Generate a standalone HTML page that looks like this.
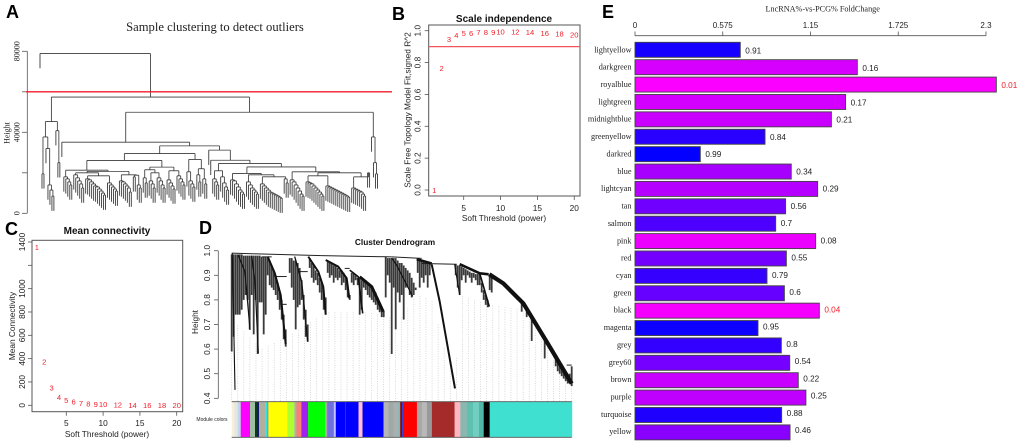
<!DOCTYPE html>
<html>
<head>
<meta charset="utf-8">
<title>WGCNA figure</title>
<style>
html,body{margin:0;padding:0;background:#fff;width:1020px;height:444px;overflow:hidden}
svg{display:block;filter:blur(0.3px)}
</style>
</head>
<body>
<svg id="fig" width="1020" height="444" viewBox="0 0 1020 444" xmlns="http://www.w3.org/2000/svg">
  <g id="panelA"></g>
  <g id="panelB"></g>
  <g id="panelC"></g>
  <g id="panelD"></g>
  <g id="panelE"></g>
</svg>
<script>
// ---------- Panel B / C data ----------
const softPowers = [1,2,3,4,5,6,7,8,9,10,12,14,16,18,20];
const scaleFitValues = [0.0,0.764,0.948,0.973,0.985,0.985,0.99,0.99,0.99,0.995,0.993,0.99,0.985,0.981,0.975];
const meanConnectivityValues = [1354,374,149,71,43,29,20,14,11,9,5,3,2,1.5,1];
const powerTicks = [5,10,15,20];
const scaleFitTicks = [0,0.2,0.4,0.6,0.8,1];
const connectivityTicks = [0,200,400,600,800,1000,1200,1400];
const connectivityTickLabels = ['0','200','400','600','800','1000','','1400'];
const scaleFitCutoff = [0.9];

// ---------- Panel E data ----------
const moduleNames = ['lightyellow','darkgreen','royalblue','lightgreen','midnightblue','greenyellow','darkred','blue','lightcyan','tan','salmon','pink','red','cyan','green','black','magenta','grey','grey60','brown','purple','turquoise','yellow'];
const foldChanges = [0.69,1.457,2.368,1.38,1.287,0.852,0.428,1.024,1.197,0.987,0.922,1.184,0.992,0.865,0.979,1.208,0.806,0.959,1.014,1.07,1.12,0.961,1.016];
const pValues = [0.91,0.16,0.01,0.17,0.21,0.84,0.99,0.34,0.29,0.56,0.7,0.08,0.55,0.79,0.6,0.04,0.95,0.8,0.54,0.22,0.25,0.88,0.46];
const foldTicks = [0,0.575,1.15,1.725,2.3];

// ---------- Panel A data: comb heights, and an upper tree of [height,left,right]
// where 0 = single sample and n>0 = comb number n ----------
const sampleCombs = [
 [18000,17000,15500,14000],
 [19000,17500,16000,14500,12500],
 [17000,16500,15500,14500,13500,13000,12000,11000,10000,9000],
 [15000,14000,13000,12000,11000],
 [16000,15500,14500,13500,12500,10500],
 [18000],
 [14000,12500],
 [17500,15000],
 [16000,14500,12500],
 [17500,16000,14000,12500],
 [16500,15000,13500,12000],
 [18500,17000,15500,14000],
 [20500,16000,14500,13000],
 [19000,15500],
 [17000,14500],
 [17000,15500,14000],
 [18000,15000,13000,11500],
 [16500,16000,14500,13000,11500,10500,9500],
 [15500,14000,12500,11500,10500,9500],
 [14500,13500,12500,11500,10500,10000,9500,9000,8500,8000,7500],
 [17000,15000],
 [16500,15500,14000,12500,11000,9500,8500],
 [15500,15000,14500,13500,12500,11500,10500,9500,8500],
 [13500,13000,12500,12000,11500,11000,10500,10000,9500,9000,8500,8000],
 [12500,12000,11500,11000,10500,9500,8500],
 [20000]
];
const sampleTree =
 [78900, 0,
  [57400,
   [45300,
    [37700, [19500,0,0], [32000,0,[14000,0,[11500,0,[8500,0,0]]]]],
    [40800,0,[25000,0,0]]],
   [49900,
    [35100, 0,
     [33300,
      [29500,
       [26100,
        [21300, 1, [20700, [20000, 2, [18500, 3, 4]], [19000, 5, [18800, 6, 7]]]],
        [22800, [21500, 8, [20000, 9, 10]], [21000, 11, 12]]],
       [26600, 13, [22000, 14, 15]]],
      [31200, 0,
       [26200, 0,
        [24600,
         [21000, 16, 17],
         [22900,
          [19700, 18, [19000, 19, [18000, 20, 21]]],
          [20500, 22, [20000, [18500, 23, 24], [18000, 25, 26]]]]]]]]],
    [37700, 0, [25000, 0, [19500, 0, 0]]]]]];
const sampleHang = [7300];
const sampleHeightTicks = [0,20000,40000,60000,80000];
const sampleHeightLabels = ['0','','40000','','80000'];
const sampleCutoff = [60000];

// ---------- Panel D data (gene rank, 0..340) ----------
const geneCurves = [
 {w:1.1,pts:[[0.6,0.99],[3.3,0.434]]},
 {w:1.2,pts:[[6.6,0.982],[13.3,0.915],[18.3,0.678]]},
 {w:1.2,pts:[[20,0.98],[23.3,0.874],[26.6,0.583]]},
 {w:2,pts:[[36,0.976],[43,0.91],[49,0.82],[54,0.62]]},
 {w:1.3,pts:[[63,0.976],[70,0.874],[76,0.63]]},
 {w:1.9,pts:[[76.6,0.976],[86.6,0.915],[91.6,0.854],[94,0.74]]},
 {w:2,pts:[[94,0.962],[106.6,0.935],[115,0.888],[117.6,0.806]]},
 {w:1.6,pts:[[118,0.921],[126.6,0.894],[131,0.745]]},
 {w:3,pts:[[128,0.894],[140,0.854],[151.6,0.752]]},
 {w:1.2,pts:[[160,0.97],[165,0.942],[181,0.814]]},
 {w:2.6,pts:[[185,0.965],[200,0.948]]},
 {w:2,pts:[[200,0.944],[208,0.793],[223.3,0.44]]},
 {w:1.2,pts:[[223,0.944],[228,0.82]]},
 {w:2.6,pts:[[228,0.945],[248,0.908],[257,0.904]]},
 {w:1.6,pts:[[248,0.908],[257.6,0.773]]},
 {w:4.2,pts:[[257.6,0.904],[271.6,0.867],[291.6,0.786],[315,0.63],[340,0.46]]}
];
const geneLinks = [
 [0,90,0.99,0.98],[90,160,0.98,0.975],[160,190,0.975,0.969],[190,225,0.948,0.945],
 [43,55,0.895,0.895],[49,55,0.782,0.782],[67,76,0.915,0.915],[113,118,0.928,0.928],[30,40,0.975,0.975],[335,340,0.535,0.535]
];
const geneSpikes = [
 [0,0.985,0.59],[2,0.985,0.65],[4,0.985,0.74],[6,0.985,0.74],[8,0.985,0.74],[10,0.985,0.76],[12,0.98,0.8],[14,0.98,0.82],[16,0.98,0.8],[18,0.98,0.68],
 [20,0.98,0.82],[22,0.98,0.66],[24,0.98,0.8],[26,0.98,0.58],[28,0.98,0.79],[30,0.975,0.79],[32,0.975,0.66],[34,0.975,0.74],
 [36,0.97,0.9],[38,0.96,0.86],[40,0.94,0.85],[42,0.92,0.84],[44,0.9,0.82],[46,0.87,0.8],[48,0.83,0.76],[50,0.8,0.72],[52,0.74,0.64],[54,0.68,0.61],
 [58,0.97,0.91],[60,0.97,0.85],[62,0.96,0.8],[64,0.96,0.68],[66,0.95,0.77],[68,0.93,0.78],[70,0.88,0.8],[72,0.82,0.72],[74,0.76,0.65],[76,0.7,0.63],
 [78,0.97,0.93],[80,0.95,0.89],[82,0.94,0.87],[84,0.92,0.88],[86,0.91,0.86],[88,0.89,0.83],[90,0.87,0.8],[92,0.84,0.76],[94,0.81,0.74],
 [96,0.96,0.91],[98,0.95,0.89],[100,0.95,0.9],[102,0.94,0.87],[104,0.94,0.89],[106,0.93,0.88],[108,0.92,0.89],[110,0.92,0.86],[112,0.91,0.87],[114,0.89,0.84],[116,0.86,0.81],[118,0.82,0.8],
 [120,0.91,0.87],[122,0.91,0.86],[124,0.9,0.88],[126,0.89,0.86],[128,0.89,0.74],[130,0.88,0.76],[132,0.885,0.85],[134,0.88,0.84],[136,0.87,0.82],[138,0.86,0.81],[140,0.85,0.8],[142,0.84,0.79],[144,0.83,0.78],[146,0.81,0.76],[148,0.79,0.75],[150,0.77,0.73],[152,0.755,0.73],
 [154,0.975,0.81],[156,0.97,0.9],[158,0.97,0.87],[160,0.97,0.58],[162,0.97,0.85],[164,0.97,0.68],[166,0.96,0.83],[168,0.95,0.79],[170,0.95,0.82],[172,0.94,0.72],[174,0.93,0.85],[176,0.92,0.85],[178,0.91,0.82],[180,0.89,0.81],[182,0.87,0.82],[184,0.85,0.84],
 [186,0.97,0.91],[188,0.965,0.85],[190,0.96,0.89],[192,0.955,0.87],[194,0.95,0.9],[196,0.95,0.85],[198,0.95,0.9],
 [224,0.945,0.9],[226,0.94,0.85],[228,0.94,0.82],[230,0.935,0.88],[232,0.93,0.9],[234,0.925,0.87],[236,0.92,0.9],[238,0.915,0.89],[240,0.91,0.87],[242,0.91,0.89],[244,0.905,0.88],[246,0.905,0.86],[248,0.905,0.86],[250,0.87,0.83],[252,0.84,0.8],[254,0.82,0.78],[256,0.8,0.77],[258,0.9,0.84],[260,0.895,0.83],
 [290,0.79,0.752],[295,0.77,0.73],[300,0.74,0.633],[313,0.64,0.562],[324,0.56,0.53],
 [326,0.55,0.51],[328,0.53,0.5],[330,0.52,0.49],[332,0.51,0.48],[334,0.5,0.47],[336,0.49,0.46],[338,0.5,0.46],[340,0.53,0.45]
];
const geneCanopy = [[0,0.72],[30,0.6],[60,0.66],[95,0.75],[130,0.75],[155,0.74],[165,0.7],[185,0.82],[200,0.8],[223,0.44],[228,0.82],[257,0.78],[291,0.76],[315,0.62],[340,0.46]];
const guideCount = [57];
const moduleBarColors = ['#f5f0d8','#e6e6e6','#bfd8e8','#ff00ff','#9fc0a0','#0a3a20','#191970','#b0b0a0','#00ffff','#999999','#ffff00','#adff2f','#b0b0b0','#fa8072','#a020f0','#00ff00','#aaaaaa','#7070e0','#c0c0ff','#0000ff','#006060','#0000ff','#ffc0cb','#0000ff','#b5b5b5','#a0a8a8','#a9b0b0','#70c0c0','#8b0000','#2244ee','#ff0000','#a8a8a8','#b8b8b8','#999999','#a52a2a','#ffb6c1','#8ab8b0','#60c0b0','#70cfc0','#50b8a8','#000000','#40e0d0'];
const moduleBarSizes = [2.7,3.3,3,9.3,5,2,2,6,1.7,1.7,19,7,2,5,6.7,17,2,6.7,2,9.3,0.7,12.7,4,21,5,5,5,1.7,1.7,1,14,5,5,5,22.7,5.7,6.7,6,6,4.7,6,82.3];
const geneHeightTicks = [0.4,0.5,0.6,0.7,0.8,0.9,1.0];

// ---------- Helpers ----------
const SVGNS = 'http://www.w3.org/2000/svg';
const SANS = '"Liberation Sans", Arial, sans-serif';
const SERIF = '"Liberation Serif", "Times New Roman", serif';
function mk(tag, attrs, parent){
  const n = document.createElementNS(SVGNS, tag);
  for (const k in attrs) n.setAttribute(k, attrs[k]);
  parent.appendChild(n);
  return n;
}
function seg(parent, x1, y1, x2, y2, color, w, label){
  const n = mk('line', {x1:x1, y1:y1, x2:x2, y2:y2, stroke:color, 'stroke-width':w}, parent);
  
  
  return n;
}
function txt(parent, x, y, str, size, family, opts, label){
  const o = opts || {};
  const a = {x:x, y:y, 'font-size':size, 'font-family':family, 'text-anchor':o.anchor || 'middle', fill:o.fill || '#222'};
  if (o.weight) a['font-weight'] = o.weight;
  if (o.rotate) a.transform = 'rotate(-90 ' + x + ' ' + y + ')';
  const n = mk('text', a, parent);
  n.textContent = str;
  
  
  return n;
}
const AXIS = '#555';

// ---------- Panel letters ----------
const letters = [['A',6,18],['B',392,20],['C',5,235],['D',199,234],['E',602,18]];
const svgRoot = document.getElementById('fig');
letters.forEach(function(l){
  txt(svgRoot, l[1], l[2], l[0], 18, SANS, {anchor:'start', weight:'bold', fill:'#000'}, 'panel-letter-' + l[0].toLowerCase());
});

// ---------- Panel A ----------
(function(){
  const g = document.getElementById('panelA');
  const yA = function(v){ return 213.3 - v * 162 / 80000; };
  const leafStep = 337.5 / 170;
  let cursor = 0;
  const xLeaf = function(){ const x = 40 + cursor * leafStep; cursor += 1; return x; };
  function expand(node){
    if (node === 0) return {leaf:true};
    if (typeof node === 'number') {
      const hs = sampleCombs[node - 1];
      let cur = [hs[hs.length - 1], 0, 0];
      for (let i = hs.length - 2; i >= 0; i--) cur = [hs[i], 0, cur];
      return expand(cur);
    }
    return {h:node[0], l:expand(node[1]), r:expand(node[2])};
  }
  function draw(n, parentH){
    if (n.leaf) {
      const x = xLeaf();
      seg(g, x, yA(parentH), x, yA(parentH - sampleHang[0]), '#444', 0.95, 'sample-leaf');
      return x;
    }
    const a = draw(n.l, n.h);
    const b = draw(n.r, n.h);
    seg(g, a, yA(n.h), b, yA(n.h), '#3a3a3a', 0.85, 'dendrogram-merge');
    const mid = (a + b) / 2;
    if (parentH !== null) seg(g, mid, yA(parentH), mid, yA(n.h), '#3a3a3a', 0.85, 'dendrogram-branch');
    return mid;
  }
  draw(expand(sampleTree), null);
  seg(g, 27.3, yA(0), 27.3, yA(80000), AXIS, 0.8, 'height-axis-line');
  sampleHeightTicks.forEach(function(t, i){
    seg(g, 22, yA(t), 27.3, yA(t), AXIS, 0.8, 'height-axis-tick');
    if (sampleHeightLabels[i]) txt(g, 19.5, yA(t), sampleHeightLabels[i], 8, SERIF, {rotate:true}, 'height-tick-label');
  });
  txt(g, 9.5, 133, 'Height', 8, SERIF, {rotate:true}, 'height-axis-title');
  seg(g, 26, yA(sampleCutoff[0]), 392, yA(sampleCutoff[0]), '#f01c2c', 1.3, 'outlier-cutoff-line');
  txt(g, 215, 31, 'Sample clustering to detect outliers', 12.6, SERIF, {}, 'sample-clustering-title');
})();

// ---------- Panels B & C ----------
function scatterPanel(g, box, xScale, yScale, yTicks, yLabels, values, title, yTitle, yTitleY, titleX, xTitleY, titleY, xTickY, yTickX, yTitleX){
  const frame = mk('rect', {x:box.l, y:box.t, width:box.r - box.l, height:box.b - box.t, fill:'none', stroke:AXIS, 'stroke-width':1}, g);
  
  
  powerTicks.forEach(function(t){
    seg(g, xScale(t), box.b, xScale(t), box.b + 4, AXIS, 0.8, 'power-axis-tick');
    txt(g, xScale(t), xTickY, String(t), 8.3, SANS, {}, 'power-tick-label');
  });
  yTicks.forEach(function(t, i){
    seg(g, box.l - 4, yScale(t), box.l, yScale(t), AXIS, 0.8, 'y-axis-tick');
    if (yLabels[i]) txt(g, yTickX, yScale(t), yLabels[i], 8.3, SANS, {rotate:true}, 'y-tick-label');
  });
  values.forEach(function(v, i){
    txt(g, xScale(softPowers[i]), yScale(v) + 2.8, String(softPowers[i]), 7.6, SANS, {fill:'#f0202c'}, 'power-point-label');
  });
  txt(g, titleX, titleY, title, 10, SANS, {weight:'bold', fill:'#111'}, 'panel-title');
  txt(g, titleX, xTitleY, 'Soft Threshold (power)', 8.3, SANS, {}, 'x-axis-title');
  txt(g, yTitleX, yTitleY, yTitle, 8.3, SANS, {rotate:true}, 'y-axis-title');
}
(function(){
  const g = document.getElementById('panelB');
  const x = function(v){ return 463.7 + (v - 5) * 7.37; };
  const y = function(v){ return 190 - v * 159.3; };
  scatterPanel(g, {l:428.7, r:580, t:25, b:196}, x, y, scaleFitTicks, scaleFitTicks.map(function(t){return t.toFixed(1);}), scaleFitValues,
    'Scale independence', 'Scale Free Topology Model Fit,signed R^2', 110, 504, 221, 22, 211, 420.5, 410.5);
  seg(g, 428.7, y(scaleFitCutoff[0]), 580, y(scaleFitCutoff[0]), '#f2555f', 1.3, 'scale-fit-cutoff-line');
})();
(function(){
  const g = document.getElementById('panelC');
  const x = function(v){ return 66.3 + (v - 5) * 7.36; };
  const y = function(v){ return 405.3 - v * 163.3 / 1400; };
  scatterPanel(g, {l:32, r:182.7, t:240.3, b:411.7}, x, y, connectivityTicks, connectivityTickLabels, meanConnectivityValues,
    'Mean connectivity', 'Mean Connectivity', 326, 107, 437, 234, 426, 25, 15);
})();

// ---------- Panel D ----------
(function(){
  const g = document.getElementById('panelD');
  const x = function(r){ return 231.7 + r; };
  const y = function(h){ return 250.7 + (1 - h) * 246; };
  const canopyAt = function(r){
    for (let i = 1; i < geneCanopy.length; i++) {
      if (r <= geneCanopy[i][0]) {
        const a = geneCanopy[i - 1], b = geneCanopy[i];
        return a[1] + (b[1] - a[1]) * (r - a[0]) / (b[0] - a[0]);
      }
    }
    return geneCanopy[geneCanopy.length - 1][1];
  };
  for (let i = 0; i < guideCount[0]; i++) {
    const r = i * 340 / (guideCount[0] - 1);
    const guide = seg(g, x(r), y(canopyAt(r)), x(r), 401.7, '#c9c9c9', 0.7, 'module-guide-line');
    guide.setAttribute('stroke-dasharray', '1 1.4');
  }
  geneSpikes.forEach(function(s){
    seg(g, x(s[0]), y(s[1]), x(s[0]), y(s[2]), '#3a3a3a', 1.8, 'gene-branch-spike');
  });
  geneLinks.forEach(function(l){
    seg(g, x(l[0]), y(l[2]), x(l[1]), y(l[3]), '#222', 1, 'gene-merge-link');
  });
  geneCurves.forEach(function(c){
    const curve = mk('polyline', {points:c.pts.map(function(p){return x(p[0]) + ',' + y(p[1]);}).join(' '), fill:'none', stroke:'#111', 'stroke-width':c.w, 'stroke-linejoin':'round'}, g);
    
    
  });
  seg(g, 218.3, y(1), 218.3, y(0.4), AXIS, 0.8, 'gene-height-axis-line');
  geneHeightTicks.forEach(function(t){
    seg(g, 214, y(t), 218.3, y(t), AXIS, 0.8, 'gene-height-tick');
    txt(g, 210, y(t), t.toFixed(1), 8.3, SANS, {rotate:true}, 'gene-height-tick-label');
  });
  txt(g, 198, 322, 'Height', 8.3, SANS, {rotate:true}, 'gene-height-axis-title');
  txt(g, 395, 245, 'Cluster Dendrogram', 8.3, SANS, {weight:'bold', fill:'#111'}, 'cluster-dendrogram-title');
  txt(g, 212, 421, 'Module colors', 5, SANS, {}, 'module-colors-label');
  let pos = 0;
  moduleBarColors.forEach(function(c, i){
    const r = mk('rect', {x:x(pos), y:401.7, width:moduleBarSizes[i] + 0.2, height:35.6, fill:c}, g);
    
    
    pos += moduleBarSizes[i];
  });
  seg(g, 231.7, 401.7, 571.7, 401.7, '#555', 0.9, 'module-bar-top-border');
  seg(g, 231.7, 437.3, 571.7, 437.3, '#555', 0.9, 'module-bar-bottom-border');
})();

// ---------- Panel E ----------
(function(){
  const g = document.getElementById('panelE');
  const x = function(v){ return 635 + v * 152.6; };
  const y = function(i){ return 42.3 + i * 17.39; };
  txt(g, 822.7, 11.5, 'LncRNA%-vs-PCG% FoldChange', 8.2, SERIF, {}, 'foldchange-title');
  seg(g, x(0), 35.7, x(2.3), 35.7, AXIS, 0.8, 'foldchange-axis-line');
  foldTicks.forEach(function(t){
    seg(g, x(t), 31.5, x(t), 35.7, AXIS, 0.8, 'foldchange-axis-tick');
    txt(g, x(t), 28, String(t), 8, SANS, {}, 'foldchange-tick-label');
  });
  moduleNames.forEach(function(nm, i){
    const bar = mk('rect', {x:x(0), y:y(i), width:foldChanges[i] * 152.6, height:15, fill:'rgb(' + Math.round(255 * (1 - pValues[i])) + ',0,255)', stroke:'#444', 'stroke-width':0.9}, g);
    
    
    txt(g, 631.5, 52.3 + i * 17.36, nm, 8.2, SERIF, {anchor:'end'}, 'module-label-' + nm);
    txt(g, x(foldChanges[i]) + 5, 53.7 + i * 17.25, String(pValues[i]), 8.2, SANS, {anchor:'start', fill:pValues[i] < 0.05 ? '#f0202c' : '#222'}, 'p-value-' + nm);
  });
})();
</script>
</body>
</html>
